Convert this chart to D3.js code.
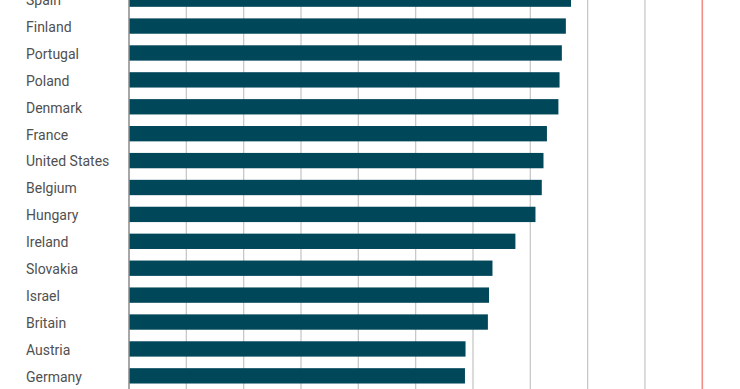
<!DOCTYPE html>
<html>
<head>
<meta charset="utf-8">
<script src="https://cdn.jsdelivr.net/npm/d3@7"></script>
<style>
  html, body { margin: 0; padding: 0; background: #fff; }
  svg { display: block; }
</style>
</head>
<body>
<svg id="chart" width="740" height="389"></svg>
<script>
const countries = ["Spain","Finland","Portugal","Poland","Denmark","France","United States","Belgium","Hungary","Ireland","Slovakia","Israel","Britain","Austria","Germany"];
const values = [77.1, 76.2, 75.5, 75.1, 74.9, 72.9, 72.3, 72.0, 70.9, 67.4, 63.4, 62.8, 62.6, 58.7, 58.6];
const xTicks = [0, 10, 20, 30, 40, 50, 60, 70, 80, 90];
const refValue = 100;

const svg = d3.select("#chart");
const x = d3.scaleLinear().domain([0, 100]).range([129, 702.3]);
const y = d3.scaleBand().domain(countries).range([-14.3, 389.3]).paddingInner(0.43).paddingOuter(0.215);

// gridlines
svg.append("g").selectAll("line").data(xTicks.slice(1)).join("line")
  .attr("x1", d => x(d)).attr("x2", d => x(d))
  .attr("y1", 0).attr("y2", 389)
  .attr("stroke", "#c8c8c8").attr("stroke-width", 1.3);

// bars
svg.append("g").selectAll("rect").data(countries).join("rect")
  .attr("x", x(0))
  .attr("y", d => y(d))
  .attr("width", (d, i) => x(values[i]) - x(0))
  .attr("height", y.bandwidth())
  .attr("fill", "#004759");

// zero axis
svg.append("line")
  .attr("x1", x(0)).attr("x2", x(0)).attr("y1", 0).attr("y2", 389)
  .attr("stroke", "#8a8a8a").attr("stroke-width", 1.5);

// reference red line
svg.append("line")
  .attr("x1", x(refValue)).attr("x2", x(refValue)).attr("y1", 0).attr("y2", 389)
  .attr("stroke", "#f28e85").attr("stroke-width", 1.6);

// labels
svg.append("g").selectAll("text").data(countries).join("text")
  .attr("x", 26)
  .attr("y", d => y(d) + y.bandwidth() / 2)
  .attr("dy", "0.42em")
  .attr("font-family", "Roboto, 'Liberation Sans', sans-serif")
  .attr("font-size", 14)
  .attr("fill", "#505050")
  .text(d => d);
</script>
</body>
</html>
